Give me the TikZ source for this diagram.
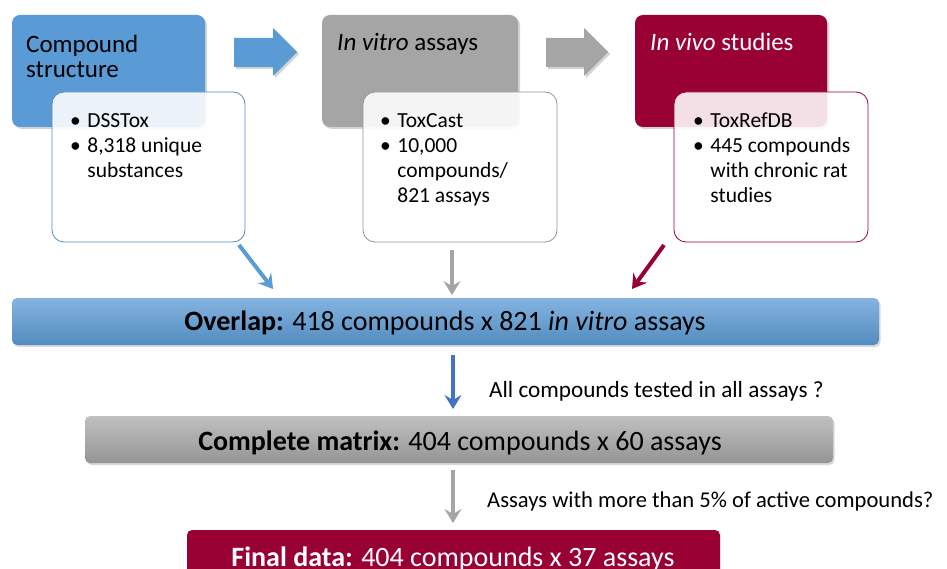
\documentclass[tikz,border=0pt]{standalone}
\usepackage{fontspec}
\setmainfont{Carlito}
\usetikzlibrary{shadows,arrows.meta}
\definecolor{cblue}{HTML}{5B9BD5}
\definecolor{cgray}{HTML}{A5A5A5}
\definecolor{cred}{HTML}{990033}
\definecolor{dblue}{HTML}{4472C4}
\tikzset{
  topbox/.style={rounded corners=8pt, drop shadow={opacity=0.35,shadow xshift=2pt,shadow yshift=-2pt}},
  infobox/.style={rounded corners=12pt, fill=white, fill opacity=0.88, line width=0.8pt},
  blockarrow/.style={drop shadow={opacity=0.35,shadow xshift=2pt,shadow yshift=-2pt}},
  head/.style={font=\fontsize{25}{25}\selectfont, anchor=base west, inner sep=0pt, align=left},
  bul/.style={font=\fontsize{21.5}{25}\selectfont, anchor=north west, inner sep=0pt, align=left},
  bar/.style={rounded corners=5pt, drop shadow={opacity=0.3,shadow xshift=1.5pt,shadow yshift=-2pt}},
  bartext/.style={font=\fontsize{28}{30}\selectfont, anchor=base, inner sep=0pt},
  lbl/.style={font=\fontsize{23.2}{26}\selectfont, anchor=base west, inner sep=0pt},
  thinarr/.style={line width=4pt, -{Stealth[length=14pt,width=17pt,inset=5pt]}},
}
\begin{document}
\begin{tikzpicture}[x=1pt,y=-1pt]
\useasboundingbox (0,0) rectangle (947,569);
% top coloured boxes
\fill[topbox, cblue] (12,15) rectangle (205,127);
\fill[topbox, cgray] (322,15) rectangle (518,127);
\fill[topbox, cred] (635,15) rectangle (827,127);
\node[head] (t1) at (26,78) {Compound\\structure};
\node[head] (t2) at (337,51) {\textit{In vitro} assays};
\node[head, text=white] (t3) at (650,51) {\textit{In vivo} studies};
% block arrows
\fill[blockarrow, cblue] (234,38) -- (273,38) -- (273,28) -- (297,52) -- (273,76) -- (273,67) -- (234,67) -- cycle;
\fill[blockarrow, cgray] (546,38) -- (584,38) -- (584,28) -- (608,52) -- (584,76) -- (584,67) -- (546,67) -- cycle;
% info boxes
\draw[infobox, draw=cblue!90!black] (52,92) rectangle (245,242);
\draw[infobox, draw=cgray!90!black] (363,92) rectangle (557,242);
\draw[infobox, draw=cred] (674,92) rectangle (868,242);
\node[bul] (b1) at (70,110) {\begin{tabular}{@{}l@{\hspace{6.5pt}}l@{}}\textbullet & DSSTox\\ \textbullet & 8,318 unique\\ & substances\end{tabular}};
\node[bul] (b2) at (380,110) {\begin{tabular}{@{}l@{\hspace{6.5pt}}l@{}}\textbullet & ToxCast\\ \textbullet & 10,000\\ & compounds/\\ & 821 assays\end{tabular}};
\node[bul] (b3) at (693,110) {\begin{tabular}{@{}l@{\hspace{6.5pt}}l@{}}\textbullet & ToxRefDB\\ \textbullet & 445 compounds\\ & with chronic rat\\ & studies\end{tabular}};
% bars
\shade[bar, top color=cblue!75!white, bottom color=cblue!90!black] (12,298) rectangle (879,345);
\node[bartext] (ov) at (445,330) {\textbf{Overlap:} 418 compounds x 821 \textit{in vitro} assays};
\shade[bar, top color=cgray!70!white, bottom color=cgray!90!black] (85,416) rectangle (833,463);
\node[bartext] (cm) at (460,450) {\textbf{Complete matrix:} 404 compounds x 60 assays};
\fill[cred, rounded corners=5pt] (187,530) rectangle (720,580);
\node[bartext, text=white] (fd) at (453,566) {\textbf{Final data:} 404 compounds x 37 assays};
% connector anchors
\coordinate (a1s) at (239,245); \coordinate (a1e) at (273,289);
\coordinate (a2s) at (452,250); \coordinate (a2e) at (452,295);
\coordinate (a3s) at (664,245); \coordinate (a3e) at (632,289);
\coordinate (a4s) at (453,355); \coordinate (a4e) at (453,409);
\coordinate (a5s) at (453,470); \coordinate (a5e) at (453,523);
\draw[thinarr, cblue] (a1s) -- (a1e);
\draw[thinarr, cgray] (a2s) -- (a2e);
\draw[thinarr, cred] (a3s) -- (a3e);
\draw[thinarr, dblue] (a4s) -- (a4e);
\draw[thinarr, cgray] (a5s) -- (a5e);
\node[lbl] (l1) at (489,397) {All compounds tested in all assays ?};
\node[lbl, font=\fontsize{22.6}{26}\selectfont] (l2) at (487,507) {Assays with more than 5\% of active compounds?};
\end{tikzpicture}
\end{document}
